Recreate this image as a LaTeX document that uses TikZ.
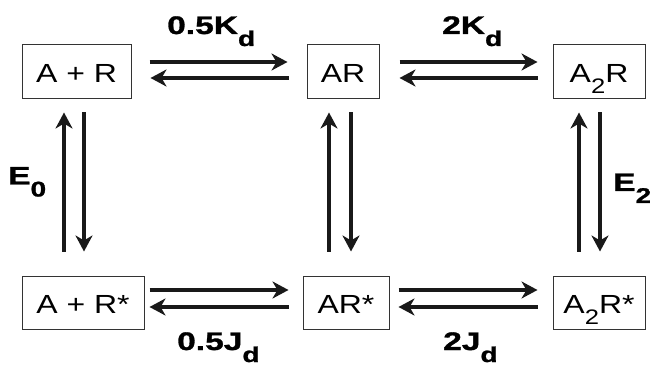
\documentclass[tikz,border=0pt]{standalone}
\usepackage{fontspec}
\setmainfont{Liberation Sans}[FakeStretch=1.22]
\newfontfamily\lblfont{Liberation Sans}[FakeStretch=1.32, FakeBold=1.2]
\usetikzlibrary{arrows.meta}

% lowered index in species names and rate labels
\newcommand\spsub[1]{\raisebox{-11pt}{\fontsize{21pt}{21pt}\selectfont #1}}
\newcommand\rtsub[1]{\raisebox{-12pt}{\fontsize{21.3pt}{21.3pt}\selectfont #1}}

\tikzset{
  species/.style={draw=black!80, line width=1pt, inner sep=0pt,
    minimum height=54pt, text height=22pt, text depth=0pt,
    font=\fontsize{26.2pt}{26.2pt}\selectfont},
  rate/.style={inner sep=0pt, anchor=base west,
    font=\lblfont\bfseries\fontsize{25.4pt}{25.4pt}\selectfont},
  arr/.style={line width=3.6pt, black!90,
    -{Stealth[length=16pt, width=17pt, inset=5pt]}},
}

\begin{document}
\begin{tikzpicture}[x=1pt, y=1pt]
\useasboundingbox (0,0) rectangle (650,367);

% inactive states
\node[species, minimum width=109pt] (apr) at (76.5,295) {A + R};
\node[species, minimum width=72pt]  (ar)  at (343,295)  {AR};
\node[species, minimum width=92pt]  (a2r) at (599,295)  {A\spsub{2}R};

% active states
\node[species, minimum width=122pt, minimum height=53pt] (aprs) at (83,64.5)  {A + R*};
\node[species, minimum width=86pt,  minimum height=53pt] (ars)  at (346,64.5) {AR*};
\node[species, minimum width=92pt,  minimum height=53pt] (a2rs) at (599,64.5) {A\spsub{2}R*};

% binding steps, top row
\draw[arr, shorten <=18pt, shorten >=19pt] ([yshift=10pt]apr.east) -- ([yshift=10pt]ar.west);
\draw[arr, shorten <=18pt, shorten >=19pt] ([yshift=-6pt]ar.west) -- ([yshift=-6pt]apr.east);
\draw[arr, shorten <=20pt, shorten >=15pt] ([yshift=10pt]ar.east) -- ([yshift=10pt]a2r.west);
\draw[arr, shorten <=15pt, shorten >=20pt] ([yshift=-6pt]a2r.west) -- ([yshift=-6pt]ar.east);

% binding steps, bottom row
\draw[arr, shorten <=5pt, shorten >=14pt] ([yshift=12.5pt]aprs.east) -- ([yshift=12.5pt]ars.west);
\draw[arr, shorten <=14pt, shorten >=5pt] ([yshift=-4.5pt]ars.west) -- ([yshift=-4.5pt]aprs.east);
\draw[arr, shorten <=9pt, shorten >=15pt] ([yshift=12.5pt]ars.east) -- ([yshift=12.5pt]a2rs.west);
\draw[arr, shorten <=15pt, shorten >=9pt] ([yshift=-4.5pt]a2rs.west) -- ([yshift=-4.5pt]ars.east);

% activation steps
\draw[arr, shorten <=24pt, shorten >=13pt] ([xshift=-12.5pt]apr.south |- aprs.north) -- ([xshift=-12.5pt]apr.south);
\draw[arr, shorten <=13pt, shorten >=24pt] ([xshift=7.5pt]apr.south) -- ([xshift=7.5pt]apr.south |- aprs.north);
\draw[arr, shorten <=24pt, shorten >=13pt] ([xshift=-14pt]ar.south |- ars.north) -- ([xshift=-14pt]ar.south);
\draw[arr, shorten <=13pt, shorten >=24pt] ([xshift=8pt]ar.south) -- ([xshift=8pt]ar.south |- ars.north);
\draw[arr, shorten <=24pt, shorten >=13pt] ([xshift=-20pt]a2r.south |- a2rs.north) -- ([xshift=-20pt]a2r.south);
\draw[arr, shorten <=13pt, shorten >=24pt] ([xshift=1pt]a2r.south) -- ([xshift=1pt]a2r.south |- a2rs.north);

% rate labels
\node[rate] (k1) at (167,333) {0.5K\rtsub{d}};
\node[rate] (k2) at (442,333) {2K\rtsub{d}};
\node[rate] (j1) at (177,17)  {0.5J\rtsub{d}};
\node[rate] (j2) at (443,17)  {2J\rtsub{d}};
\node[rate] (e0) at (8,182.5) {E\rtsub{0}};
\node[rate] (e2) at (613,176) {E\rtsub{2}};
\end{tikzpicture}
\end{document}
